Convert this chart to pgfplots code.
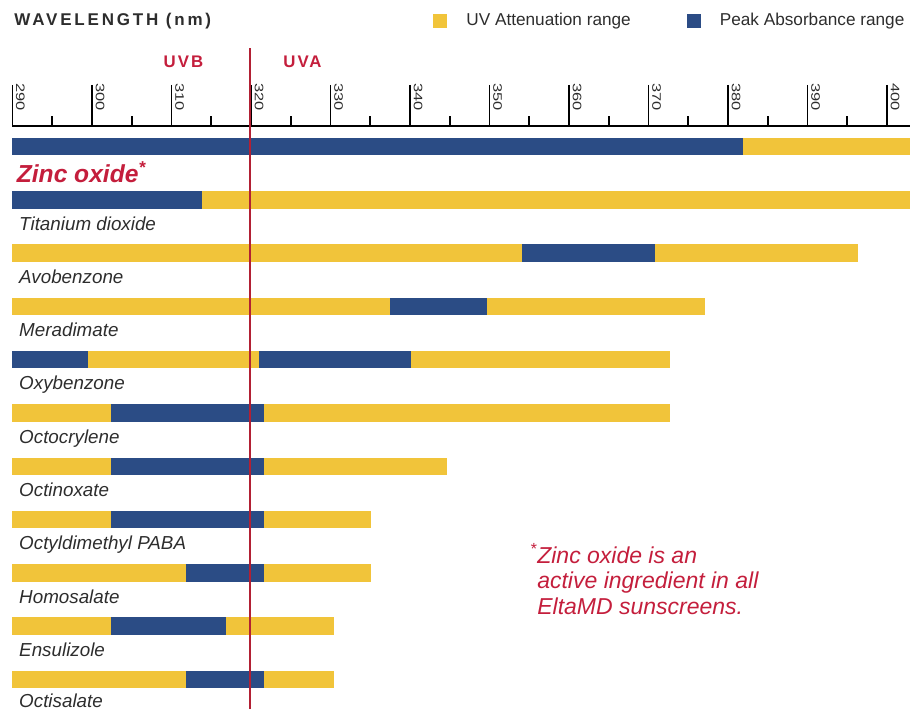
\documentclass[border=0pt]{standalone}
\usepackage{pgfplots}
\pgfplotsset{compat=1.18}
\usepackage{fontspec}
\setmainfont{Liberation Sans}
\newfontfamily\titlefont[LetterSpace=16.5]{Liberation Sans}
\newfontfamily\uvfont[LetterSpace=12]{Liberation Sans}
\definecolor{uvyellow}{RGB}{241,196,58}
\definecolor{uvblue}{RGB}{43,76,133}
\definecolor{uvred}{RGB}{178,32,52}
\definecolor{txtred}{RGB}{196,30,60}
\definecolor{txtgray}{RGB}{45,45,45}
\tikzset{labl/.style={anchor=north west, inner sep=0pt, font=\itshape\fontsize{9.4}{11}\selectfont, text=txtgray}}
\begin{document}
\begin{tikzpicture}
\begin{axis}[
  at={(0pt,0pt)}, anchor=south west,
  scale only axis, width=455pt, height=291.5pt,
  xmin=288.43, xmax=402.89,
  ymin=0.4465, ymax=11.3846,
  axis x line*=top, axis y line=none,
  x axis line style={draw=none},
  xtick={290,300,...,400},
  minor xtick={295,305,...,395},
  tick align=outside,
  major tick length=20.5pt, minor tick length=5pt,
  tick style={black, line width=0.9pt},
  /pgf/number format/assume math mode=true,
  xticklabel style={font=\fontsize{8.2}{9}\selectfont, text=txtgray, xshift=4pt, yshift=1pt, xscale=0.75, rotate=-90, anchor=west, inner sep=0pt},
  clip=false,
  legend columns=2,
  legend style={at={(0.4758,1.1801)}, anchor=west, draw=none, fill=none, inner sep=0pt,
    nodes={inner sep=0pt}, font=\fontsize{8.6}{10}\selectfont, text=txtgray,
    /tikz/every odd column/.append style={column sep=9.5pt},
    /tikz/every even column/.append style={column sep=28pt}},
]
% UV attenuation range (yellow), one segment per compound
\addplot[uvyellow, line width=8.75pt, unbounded coords=jump,
  legend image code/.code={\path[fill=uvyellow, draw=none] (0pt,-3.5pt) rectangle (7pt,3.5pt);}] coordinates {
 (290,11) (402.89,11) (nan,nan)
 (290,10) (402.89,10) (nan,nan)
 (290,9) (396.4,9) (nan,nan)
 (290,8) (377.1,8) (nan,nan)
 (290,7) (372.7,7) (nan,nan)
 (290,6) (372.7,6) (nan,nan)
 (290,5) (344.6,5) (nan,nan)
 (290,4) (335.1,4) (nan,nan)
 (290,3) (335.1,3) (nan,nan)
 (290,2) (330.4,2) (nan,nan)
 (290,1) (330.5,1)
};
\addlegendentry{UV Attenuation range}
% Peak absorbance range (blue)
\addplot[uvblue, line width=8.75pt, unbounded coords=jump,
  legend image code/.code={\path[fill=uvblue, draw=none] (0pt,-3.5pt) rectangle (7pt,3.5pt);}] coordinates {
 (290,11) (381.9,11) (nan,nan)
 (290,10) (313.8,10) (nan,nan)
 (354.1,9) (370.8,9) (nan,nan)
 (337.5,8) (349.7,8) (nan,nan)
 (290,7) (299.5,7) (nan,nan)
 (321.0,7) (340.1,7) (nan,nan)
 (302.4,6) (321.6,6) (nan,nan)
 (302.4,5) (321.6,5) (nan,nan)
 (302.4,4) (321.6,4) (nan,nan)
 (311.8,3) (321.6,3) (nan,nan)
 (302.4,2) (316.9,2) (nan,nan)
 (311.8,1) (321.6,1)
};
\addlegendentry{Peak Absorbance range}
% axis line
\draw[black, line width=0.9pt] ({axis cs:290,0}|-{rel axis cs:0,1}) -- ({rel axis cs:1,1});
% UVB / UVA boundary
\draw[uvred, line width=1.1pt] ({axis cs:319.85,0}|-{rel axis cs:0,0}) -- ({axis cs:319.85,0}|-{rel axis cs:0,1.1338});
\node[font=\uvfont\bfseries\fontsize{8.4}{10}\selectfont, text=txtred] at (rel axis cs:0.2016,1.1098) {UVB};
\node[font=\uvfont\bfseries\fontsize{8.4}{10}\selectfont, text=txtred] at (rel axis cs:0.3324,1.1098) {UVA};
% title
\node[anchor=west, inner sep=0pt, font=\titlefont\bfseries\fontsize{8.5}{10}\selectfont, text=txtgray] at (rel axis cs:0.0154,1.1801) {WAVELENGTH (nm)};
% compound labels
\node[anchor=north west, inner sep=0pt, font=\bfseries\itshape\fontsize{12.3}{14}\selectfont, text=txtred] at ([yshift=-7.6pt]axis cs:290.5,11) {Zinc oxide\textsuperscript{*}};
\node[labl] at ([yshift=-8.1pt]axis cs:290.8,10) {Titanium dioxide};
\node[labl] at ([yshift=-8.1pt]axis cs:290.8,9) {Avobenzone};
\node[labl] at ([yshift=-8.1pt]axis cs:290.8,8) {Meradimate};
\node[labl] at ([yshift=-8.1pt]axis cs:290.8,7) {Oxybenzone};
\node[labl] at ([yshift=-8.1pt]axis cs:290.8,6) {Octocrylene};
\node[labl] at ([yshift=-8.1pt]axis cs:290.8,5) {Octinoxate};
\node[labl] at ([yshift=-8.1pt]axis cs:290.8,4) {Octyldimethyl PABA};
\node[labl] at ([yshift=-8.1pt]axis cs:290.8,3) {Homosalate};
\node[labl] at ([yshift=-8.1pt]axis cs:290.8,2) {Ensulizole};
\node[labl] at ([yshift=-7.2pt]axis cs:290.8,1) {Octisalate};
% footnote
\node[anchor=north west, inner sep=0pt, align=left, font=\itshape\fontsize{11.5}{12.75}\selectfont, text=txtred] at (rel axis cs:0.590,0.2847) {\llap{\textsuperscript{*}}Zinc oxide is an\\active ingredient in all\\EltaMD sunscreens.};
\end{axis}
\pgfresetboundingbox
\useasboundingbox (0,0) rectangle (455pt,354.5pt);
\end{tikzpicture}
\end{document}
